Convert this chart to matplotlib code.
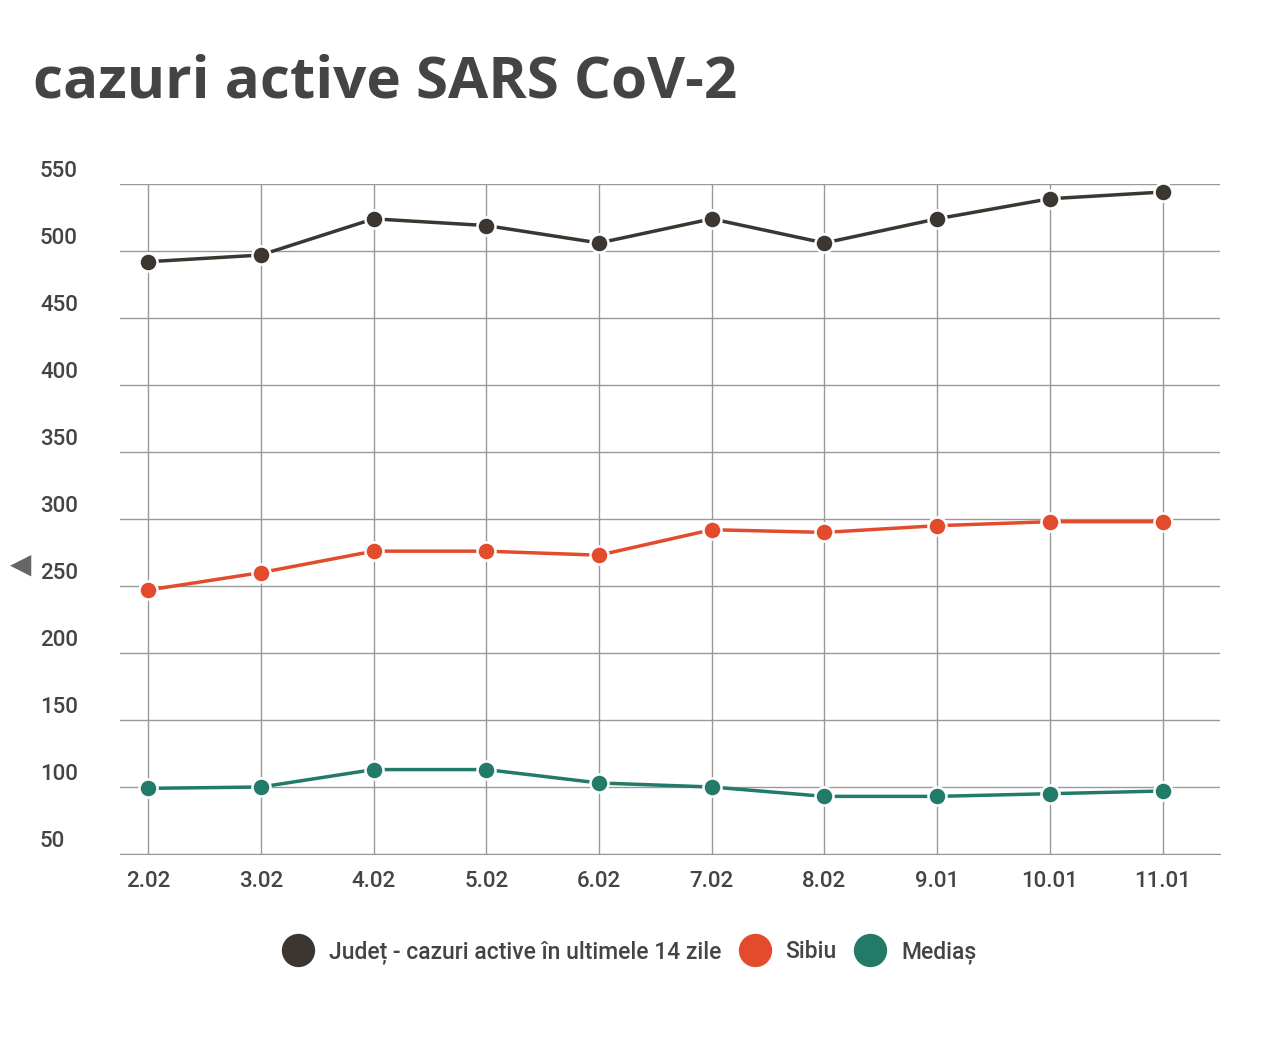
import matplotlib
matplotlib.use("Agg")
import matplotlib.pyplot as plt

categories = ["2.02","3.02","4.02","5.02","6.02","7.02","8.02","9.01","10.01","11.01"]
judet = [492, 497, 524, 519, 506, 524, 506, 524, 539, 544]
sibiu = [247, 260, 276, 276, 273, 292, 290, 295, 298, 298]
medias = [99, 100, 113, 113, 103, 100, 93, 93, 95, 97]
yticks = [50,100,150,200,250,300,350,400,450,500,550]

fig = plt.figure(figsize=(12.64,10.52), dpi=100)
ax = fig.add_axes([120/1264, 198/1052, 1100/1264, 670/1052])
x = list(range(len(categories)))
series = [(judet,"#3b3630","Județ - cazuri active în ultimele 14 zile"),
          (sibiu,"#e34b2d","Sibiu"),
          (medias,"#227a69","Mediaș")]
for vals,c,lab in series:
    ax.plot(x, vals, color=c, lw=2.5, marker="o", ms=13, mfc=c, mec="white", mew=1.8, label=lab, zorder=3)
ax.set_ylim(50,550)
ax.set_xlim(-0.25, 9.51)
ax.set_yticks(yticks)
ax.set_yticklabels([])
for v in yticks:
    ax.text(40/1264, (1052-184-(550-v)*1.34+2)/1052, str(v), transform=fig.transFigure,
            fontsize=16, color="#444444", family="Roboto", fontweight="medium", va="bottom", ha="left")
ax.set_xticks(x)
ax.set_xticklabels(categories, fontsize=16, color="#444444", family="Roboto", fontweight="medium")
ax.tick_params(length=0, pad=12)
ax.grid(True, color="#999999", lw=1)
for s in ["top","right","left"]:
    ax.spines[s].set_visible(False)
ax.spines["bottom"].set_color("#999999")
fig.text(33/1264, 1-82/1052, "cazuri active SARS CoV-2", fontsize=42, fontweight="bold",
         color="#444444", family="Open Sans", va="center")
fig.text(10/1264, 1-565/1052, "◀", fontsize=20, color="#666666", va="center", family="DejaVu Sans")
fig.legend(loc="center", bbox_to_anchor=(0.5, 1-952/1052), ncol=3, frameon=False,
           prop={"family":"Roboto","size":16.5,"weight":"medium"}, labelcolor="#444444", handlelength=0.9,
           columnspacing=1.0, handletextpad=0.9)
leg = fig.legends[0]
for h in leg.legend_handles:
    h.set_linestyle("none"); h.set_markersize(24); h.set_markeredgewidth(0)
fig.savefig("out.png", dpi=100)
